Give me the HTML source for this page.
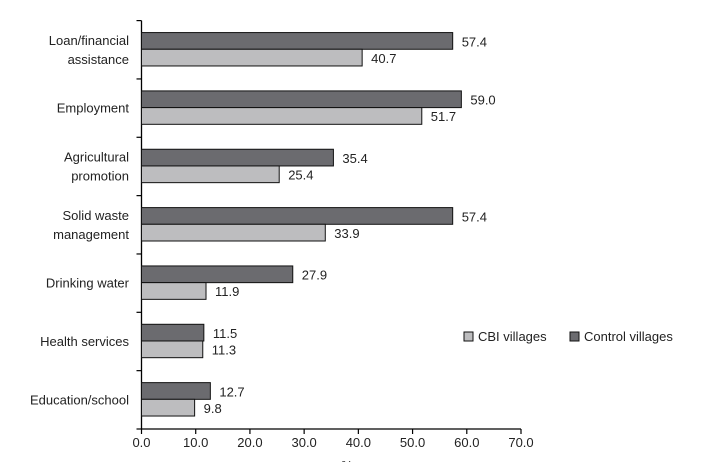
<!DOCTYPE html>
<html><head><meta charset="utf-8"><style>
html,body{margin:0;padding:0;background:#fff;}
svg{display:block;font-family:"Liberation Sans",sans-serif;}
</style></head><body>
<svg id="chart" width="722" height="462" viewBox="0 0 722 462" xmlns="http://www.w3.org/2000/svg"></svg>
<script>
const categories = [["Loan/financial","assistance"],["Employment"],["Agricultural","promotion"],["Solid waste","management"],["Drinking water"],["Health services"],["Education/school"]];
const controlValues = [57.4,59.0,35.4,57.4,27.9,11.5,12.7];
const cbiValues = [40.7,51.7,25.4,33.9,11.9,11.3,9.8];
const tickValues = [0,10,20,30,40,50,60,70];
const tickLabels = ["0.0","10.0","20.0","30.0","40.0","50.0","60.0","70.0"];

const svg = document.getElementById('chart');
const NS = 'http://www.w3.org/2000/svg';
const x0 = 141.5, x1 = 521, yTop = 20.6, yBot = 429;
const xs = v => x0 + (v / 70) * (x1 - x0);
const band = (yBot - yTop) / categories.length;
const yc = i => yTop + band * (i + 0.5);
const barH = 16.7;
function mk(tag, attrs){const e=document.createElementNS(NS,tag);for(const k in attrs)e.setAttribute(k,attrs[k]);svg.appendChild(e);return e;}

// axes
let a = mk('line',{x1:x0,y1:yTop,x2:x0,y2:yBot,stroke:'#000','stroke-width':1.3});


a = mk('line',{x1:x0,y1:yBot,x2:x1,y2:yBot,stroke:'#000','stroke-width':1.3});



for (let i=0;i<=categories.length;i++){
  const y = yTop + band*i;
  const t = mk('line',{x1:x0-5,y1:y,x2:x0,y2:y,stroke:'#000','stroke-width':1.2});
  
  
}
tickValues.forEach((v,i)=>{
  const x = xs(v);
  const t = mk('line',{x1:x,y1:yBot,x2:x,y2:yBot+5,stroke:'#000','stroke-width':1.2});
  
  
  const l = mk('text',{x:x,y:yBot+18,'text-anchor':'middle','font-size':13,fill:'#222'});
  l.textContent = tickLabels[i];
  
  
});
const pct = mk('text',{x:347,y:470,'text-anchor':'middle','font-size':13,fill:'#222'});
pct.textContent='%';



categories.forEach((lines,i)=>{
  const c = yc(i);
  const d = mk('rect',{x:x0,y:c-barH-0.5,width:xs(controlValues[i])-x0,height:barH,fill:'#6b6b6f',stroke:'#111','stroke-width':1});
  
  
  const l = mk('rect',{x:x0,y:c-0.5,width:xs(cbiValues[i])-x0,height:barH,fill:'#bdbdbf',stroke:'#111','stroke-width':1});
  
  
  const dv = mk('text',{x:xs(controlValues[i])+9,y:c-3.5,'font-size':13,fill:'#222'});
  dv.textContent = controlValues[i].toFixed(1);
  
  
  const lv = mk('text',{x:xs(cbiValues[i])+9,y:c+13,'font-size':13,fill:'#222'});
  lv.textContent = cbiValues[i].toFixed(1);
  
  
  const tl = mk('text',{x:129,'text-anchor':'end','font-size':13,fill:'#222'});
  
  
  const startY = c + 4.5 - (lines.length-1)*9.5;
  lines.forEach((s,j)=>{
    const ts = document.createElementNS(NS,'tspan');
    ts.setAttribute('x',129);ts.setAttribute('y',startY+j*19);
    ts.textContent=s;tl.appendChild(ts);
  });
});

// legend
let r = mk('rect',{x:464,y:332,width:9,height:9,fill:'#bdbdbf',stroke:'#111','stroke-width':1});


let lt = mk('text',{x:478,y:341,'font-size':13,fill:'#222'});
lt.textContent='CBI villages';


r = mk('rect',{x:570,y:332,width:9,height:9,fill:'#6b6b6f',stroke:'#111','stroke-width':1});


lt = mk('text',{x:584,y:341,'font-size':13,fill:'#222'});
lt.textContent='Control villages';


</script>
</body></html>
